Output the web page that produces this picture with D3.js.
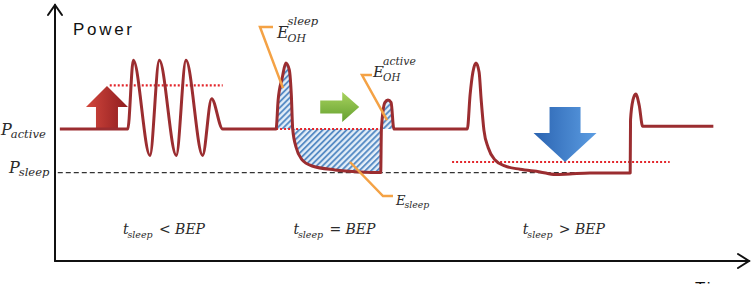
<!DOCTYPE html>
<html>
<head>
<meta charset="utf-8">
<script src="https://cdn.jsdelivr.net/npm/d3@7"></script>
<style>
  body { margin: 0; background: #fff; }
  svg { display: block; }
</style>
</head>
<body>
<div id="chart"></div>
<script>
const width = 754;
const height = 284;

// Power levels (arbitrary units, P_active = 100)
const P_ACTIVE = 100;
const P_SLEEP = 67;

// Power trace, [time, power]; three cases left to right
const traceShort = [
  [0.7, 100], [10.5, 100], [11.3, 152], [13.7, 80], [15.05, 152], [17.5, 80],
  [18.9, 152], [21.3, 80], [22.6, 123], [24.2, 100]
];
const traceEqual = [
  [24.2, 100], [31.9, 100], [32.2, 122], [32.8, 139], [33.3, 150], [33.8, 145],
  [34.1, 126], [34.3, 100], [34.8, 86], [35.6, 77], [37.1, 72], [40.4, 69],
  [44.0, 67.5], [47.0, 67], [47.1, 100], [47.6, 120], [48.05, 122], [48.5, 120],
  [48.9, 100]
];
const traceLong = [
  [48.9, 100], [59.5, 100], [59.9, 126], [60.3, 143], [60.75, 150], [61.2, 143],
  [61.5, 122], [61.9, 99], [62.5, 86], [63.5, 76.5], [64.9, 72], [67.1, 69.5],
  [70.0, 67.5], [72.2, 65.5], [74.3, 66], [77.2, 66.7], [83.0, 66.7], [83.05, 107],
  [83.4, 122], [83.8, 126.5], [84.3, 118], [84.8, 102], [95, 102]
];

// Red dotted reference levels: [tStart, tEnd, power]
const refLines = [
  [7.9, 24.2, 133],
  [31.9, 47.0, 100],
  [57.3, 88.7, 75]
];

// Hatched energy regions (time ranges on traceEqual)
const ohSleepRange = [31.9, 34.3];
const eSleepRange = [34.3, 47.0];
const ohActiveRange = [47.1, 48.9];

// Orange leader lines: [time, power] vertices
const leaderOhSleep = [[31.46, 177.3], [29.58, 177.3], [32.9, 131]];
const leaderOhActive = [[45.74, 140.9], [44.3, 140.9], [47.91, 106.8]];
const leaderSleep = [[42.57, 75], [47.33, 49.2], [48.77, 49.2]];

// Case captions
const caseOps = ["<", "=", ">"];
const caseTimes = [9.8, 34.4, 67.5];

const x = d3.scaleLinear().domain([0, 100]).range([55, 748]);
const y = d3.scaleLinear().domain([0, 100]).range([261, 129]);

const svg = d3.select("#chart")
  .append("svg")
  .attr("width", width)
  .attr("height", height);

const defs = svg.append("defs");

// diagonal hatch
const hatch = defs.append("pattern")
  .attr("id", "hatch")
  .attr("patternUnits", "userSpaceOnUse")
  .attr("width", 4.2)
  .attr("height", 10)
  .attr("patternTransform", "rotate(45)");
hatch.append("rect").attr("width", 4.2).attr("height", 10).attr("fill", "#e4eef8");
hatch.append("line")
  .attr("x1", 1).attr("y1", 0).attr("x2", 1).attr("y2", 10)
  .attr("stroke", "#4f86c2").attr("stroke-width", 1.8);

function grad(id, c0, c1) {
  const g = defs.append("linearGradient").attr("id", id)
    .attr("x1", 0).attr("y1", 0).attr("x2", 0).attr("y2", 1);
  g.append("stop").attr("offset", "0%").attr("stop-color", c0);
  g.append("stop").attr("offset", "100%").attr("stop-color", c1);
}
grad("gRed", "#d2473d", "#8f1d1f");
grad("gGreen", "#a8d25e", "#64a02f");
grad("gBlue", "#5c9de2", "#2a63b1");

const line = d3.line().x(d => x(d[0])).y(d => y(d[1])).curve(d3.curveMonotoneX);
const area = d3.area().x(d => x(d[0])).y0(y(P_ACTIVE)).y1(d => y(d[1])).curve(d3.curveMonotoneX);
const plain = d3.line().x(d => x(d[0])).y(d => y(d[1]));

// hatched energy areas
[ohSleepRange, eSleepRange, ohActiveRange].forEach(r => {
  svg.append("path")
    .datum(traceEqual.filter(d => d[0] >= r[0] && d[0] <= r[1]))
    .attr("d", area)
    .attr("fill", "url(#hatch)");
});

// axes
const axisG = svg.append("g").attr("stroke", "#111").attr("fill", "none")
  .attr("stroke-width", 2).attr("stroke-linecap", "round");
axisG.append("path").attr("d", `M${x(0)},${y(0)}V5`);
axisG.append("path").attr("d", `M${x(0)},${y(0)}H749`);
axisG.append("path").attr("d", `M${x(0) - 7},15L${x(0)},5L${x(0) + 7},15`);
axisG.append("path").attr("d", `M738,254L749,${y(0)}L738,268`);

// P_sleep dashed level
svg.append("line")
  .attr("x1", x(0.4)).attr("x2", x(83))
  .attr("y1", y(P_SLEEP)).attr("y2", y(P_SLEEP))
  .attr("stroke", "#333").attr("stroke-width", 1.3)
  .attr("stroke-dasharray", "5,3");

// red dotted levels
svg.selectAll(".ref")
  .data(refLines)
  .enter()
  .append("line")
  .attr("class", "ref")
  .attr("x1", d => x(d[0])).attr("x2", d => x(d[1]))
  .attr("y1", d => y(d[2])).attr("y2", d => y(d[2]))
  .attr("stroke", "#e3262b").attr("stroke-width", 2.2)
  .attr("stroke-dasharray", "2,2");

// block arrow pointing +x with tip at origin
function blockArrow(len, headLen, headHalf, shaftHalf) {
  return `M0,0L${-headLen},${-headHalf}L${-headLen},${-shaftHalf}L${-len},${-shaftHalf}` +
    `L${-len},${shaftHalf}L${-headLen},${shaftHalf}L${-headLen},${headHalf}Z`;
}
svg.append("path")
  .attr("d", blockArrow(42, 21, 21, 11))
  .attr("transform", `translate(${x(7.5)},${y(132.6)}) rotate(-90)`)
  .attr("fill", "url(#gRed)");
svg.append("path")
  .attr("d", blockArrow(39, 17, 15, 6.5))
  .attr("transform", `translate(${x(43.9)},${y(116.7)})`)
  .attr("fill", "url(#gGreen)");
svg.append("path")
  .attr("d", blockArrow(55, 29, 31.5, 15.5))
  .attr("transform", `translate(${x(73.6)},${y(75)}) rotate(90)`)
  .attr("fill", "url(#gBlue)");

// power trace
svg.append("path")
  .datum(traceShort.concat(traceEqual.slice(1), traceLong.slice(1)))
  .attr("d", line)
  .attr("fill", "none")
  .attr("stroke", "#9b2d30")
  .attr("stroke-width", 3)
  .attr("stroke-linejoin", "round");

// leader lines
[leaderOhSleep, leaderOhActive, leaderSleep].forEach(pts => {
  svg.append("path")
    .attr("d", plain(pts))
    .attr("fill", "none")
    .attr("stroke", "#f4a245")
    .attr("stroke-width", 2.5);
});

// math-style labels
const mathFont = "'DejaVu Serif', serif";
function mathLabel(px, py, base, size, sub, sup) {
  const g = svg.append("g").attr("font-family", mathFont).attr("font-style", "italic")
    .attr("fill", "#2b2b2b");
  const b = g.append("text").attr("x", px).attr("y", py).attr("font-size", size).text(base);
  const w = b.node().getComputedTextLength();
  if (sup) {
    g.append("text").attr("x", px + w - 1).attr("y", py - size * 0.8)
      .attr("font-size", size * 0.72).text(sup);
  }
  if (sub) {
    g.append("text").attr("x", px + w - 1).attr("y", py + size * (sup ? 0.27 : 0.2))
      .attr("font-size", size * (sup ? 0.68 : 0.72)).text(sub);
  }
}
mathLabel(1, 135, "P", 16, "active");
mathLabel(9, 173, "P", 16, "sleep");
mathLabel(x(32.02), 38, "E", 16, "OH", "sleep");
mathLabel(x(45.9), 77, "E", 15, "OH", "active");
mathLabel(x(49.2), 205, "E", 13, "sleep");

// case captions
caseOps.forEach((op, i) => {
  const cx = x(caseTimes[i]);
  const g = svg.append("g").attr("font-family", mathFont).attr("font-style", "italic")
    .attr("fill", "#2b2b2b");
  g.append("text").attr("x", cx).attr("y", 234).attr("font-size", 14).text("t");
  g.append("text").attr("x", cx + 4.5).attr("y", 237.5).attr("font-size", 9.5).text("sleep");
  g.append("text").attr("x", cx + 36).attr("y", 234).attr("font-size", 14).text(op + " BEP");
});

// axis titles
svg.append("text")
  .attr("x", 73).attr("y", 35)
  .attr("font-family", "'Liberation Sans', Arial, sans-serif")
  .attr("font-size", 17)
  .attr("textLength", 59)
  .attr("fill", "#111")
  .text("Power");
svg.append("text")
  .attr("x", 695).attr("y", 294)
  .attr("font-family", "'Liberation Sans', Arial, sans-serif")
  .attr("font-size", 17)
  .attr("textLength", 43)
  .attr("fill", "#111")
  .text("Time");
</script>
</body>
</html>
